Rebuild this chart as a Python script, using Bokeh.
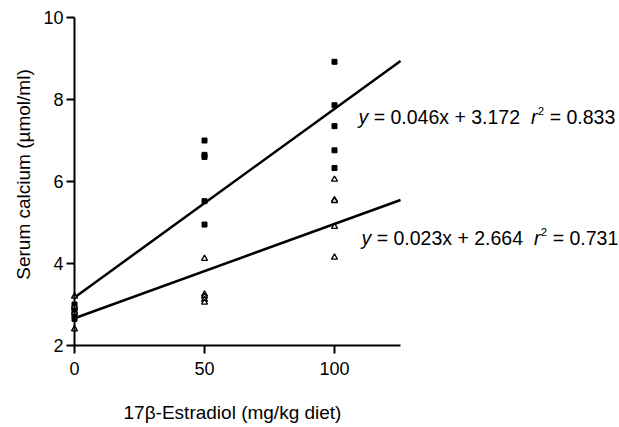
import math
from bokeh.plotting import figure
from bokeh.models import Range1d, Label, FixedTicker
from bokeh.embed import file_html
from bokeh.resources import INLINE

# ---- data ----
dose_levels = [0, 50, 100]
# filled squares (group A)
sq_x = [0, 0, 0, 0, 0, 50, 50, 50, 50, 50, 100, 100, 100, 100, 100]
sq_y = [2.65, 2.75, 2.85, 2.9, 3.0, 7.0, 6.65, 6.6, 5.52, 4.95, 8.92, 7.86, 7.35, 6.76, 6.33]
# open triangles (group B)
tri_x = [0, 0, 0, 0, 50, 50, 50, 50, 50, 100, 100, 100, 100, 100]
tri_y = [2.4, 2.8, 2.95, 3.2, 4.12, 3.25, 3.2, 3.12, 3.05, 6.05, 5.55, 5.53, 4.9, 4.15]
# regression fits
fit_a = dict(slope=0.046, intercept=3.172, r2=0.833)
fit_b = dict(slope=0.023, intercept=2.664, r2=0.731)
x_axis_end = 125.4
y_ticks = [2, 4, 6, 8, 10]
x_title = "17β-Estradiol (mg/kg diet)"
y_title = "Serum calcium (µmol/ml)"

FONT = "Liberation Sans"
NB = "\u00a0"

W, H = 619, 427
ZERO_PX = 74          # pixel where x = 0 sits
PX_PER_X = 2.6
Y2_PX = 345           # pixel where y = 2 sits
PX_PER_Y = 41.0
x_start = -ZERO_PX / PX_PER_X
x_end = x_start + W / PX_PER_X
y_end = 2 + Y2_PX / PX_PER_Y
y_start = y_end - H / PX_PER_Y

def px_to_x(px):
    return x_start + px / PX_PER_X

def px_to_y(py):
    return y_end - py / PX_PER_Y

p = figure(width=W, height=H, output_backend="svg", toolbar_location=None,
           x_range=Range1d(x_start, x_end), y_range=Range1d(y_start, y_end),
           min_border_left=0, min_border_top=0, min_border_right=0, min_border_bottom=0)
p.frame_width = W
p.frame_height = H
p.outline_line_color = None
p.grid.visible = False
p.background_fill_color = "white"
p.border_fill_color = "white"

for ax in (p.xaxis[0], p.yaxis[0]):
    ax.axis_line_width = 2
    ax.major_tick_line_width = 2
    ax.minor_tick_line_color = None
    ax.major_tick_in = 0
    ax.major_tick_out = 8
    ax.major_label_text_font = FONT
    ax.major_label_text_font_size = "18px"
    ax.major_label_text_color = "black"
    ax.axis_line_color = "black"
    ax.major_tick_line_color = "black"

p.xaxis.ticker = FixedTicker(ticks=dose_levels)
p.yaxis.ticker = FixedTicker(ticks=y_ticks)
p.xaxis.bounds = (0, x_axis_end)
p.yaxis.bounds = (2, 10)
p.yaxis.fixed_location = 0
p.xaxis.fixed_location = 2
p.xaxis.major_label_standoff = 8
p.yaxis.major_label_standoff = 3

# axis titles
p.add_layout(Label(x=px_to_x(232), y=px_to_y(412), text=x_title, text_font=FONT,
                   text_font_size="19px", text_color="black",
                   text_align="center", text_baseline="middle"))
p.add_layout(Label(x=px_to_x(23), y=px_to_y(174), text=y_title, text_font=FONT,
                   text_font_size="19px", text_color="black", angle=math.pi / 2,
                   text_align="center", text_baseline="middle"))

for fit in (fit_a, fit_b):
    p.line([0, x_axis_end], [fit["intercept"], fit["intercept"] + fit["slope"] * x_axis_end],
           line_color="black", line_width=2.5)

p.scatter(sq_x, sq_y, marker="square", size=5, fill_color="black", line_color="black")
p.scatter(tri_x, tri_y, marker="triangle", size=6, fill_color="white", line_color="black", line_width=1.3)

def equation(fit, x, y):
    fs = 19.5
    rest = (" = %.3fx + %.3f  " % (fit["slope"], fit["intercept"]))
    # approximate glyph widths (Arial/Liberation Sans metrics, em)
    w = {c: .556 for c in "0123456789"}
    w.update({" ": .278, "=": .584, "+": .584, ".": .278, "x": .5})
    rest_w = sum(w[c] for c in rest) * fs
    common = dict(x=x, y=y, text_font=FONT, text_color="black", text_baseline="middle")
    off = 0
    p.add_layout(Label(text="y", text_font_size=f"{fs}px", text_font_style="italic",
                       x_offset=off, **common))
    off += .5 * fs
    p.add_layout(Label(text=rest.replace(" ", NB), text_font_size=f"{fs}px", x_offset=off, **common))
    off += rest_w
    p.add_layout(Label(text="r", text_font_size=f"{fs}px", text_font_style="italic",
                       x_offset=off, **common))
    off += .333 * fs + 0.5
    p.add_layout(Label(text="2", text_font_size="11.5px", x_offset=off, y_offset=6, **common))
    off += .556 * 11.5
    p.add_layout(Label(text=(" = %.3f" % fit["r2"]).replace(" ", NB), text_font_size=f"{fs}px",
                       x_offset=off, **common))

equation(fit_a, px_to_x(358), px_to_y(116))
equation(fit_b, px_to_x(361), px_to_y(237))

open("out.html", "w").write(file_html(p, INLINE))
